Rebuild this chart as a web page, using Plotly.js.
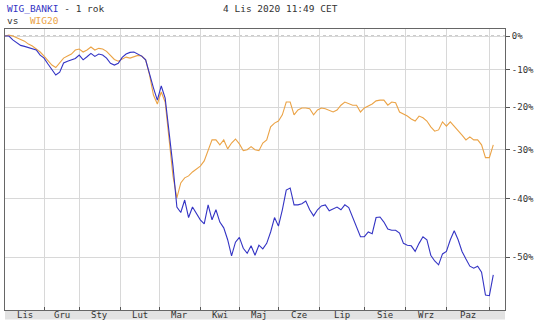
<!DOCTYPE html>
<html>
<head>
<meta charset="utf-8">
<script src="https://cdn.plot.ly/plotly-3.0.1.min.js"></script>
<style>
html,body{margin:0;padding:0;background:#fff;}
#chart{width:536px;height:326px;}
</style>
</head>
<body>
<div id="chart"></div>
<script>
// Trading-day index of every 2nd session, 4 Nov 2019 .. 4 Nov 2020
var dayStep = 2;
// WIG_BANKI, % change vs start
var wigBanki = [0,0,-1.2,-2.2,-2.9,-3.2,-3.5,-3.8,-4.3,-5.8,
-6.7,-8.4,-9.8,-11.5,-10.7,-8.1,-7.6,-7.2,-6.8,-5.8,
-7.2,-6.3,-5.3,-6.2,-5.5,-5.8,-6.7,-8.2,-8.7,-8.2,
-6.5,-5.5,-5.0,-4.9,-5.5,-6.1,-7.2,-11.5,-15.0,-18.2,
-14.5,-17.7,-25.5,-33.5,-41.5,-42.5,-40.2,-43.4,-41.5,-42.7,
-43.8,-44.5,-41.1,-43.8,-42.0,-44.2,-45.2,-47.2,-49.8,-47.6,
-46.8,-48.6,-49.4,-48.2,-49.7,-48.1,-48.7,-47.8,-45.9,-43.4,
-44.9,-42.0,-38.3,-37.9,-41.1,-41.1,-40.9,-40.4,-42.0,-43.1,
-42.0,-41.3,-41.1,-42.2,-41.8,-41.5,-42.0,-41.1,-41.6,-43.4,
-45.1,-46.7,-46.7,-45.9,-46.2,-43.4,-43.3,-44.2,-45.4,-45.6,
-45.6,-46.1,-47.8,-48.1,-48.2,-49.1,-47.8,-46.7,-47.2,-49.7,
-50.6,-51.2,-49.5,-49.1,-47.2,-45.7,-47.2,-49.1,-50.3,-51.4,
-51.7,-51.4,-52.3,-55.6,-55.7,-52.7];
// WIG20, % change vs start
var wig20 = [0,0.3,0,-0.6,-1.1,-1.6,-2.5,-3.1,-4.0,-4.9,
-6.1,-7.5,-8.7,-9.4,-8.1,-6.7,-6.1,-5.5,-4.3,-4.0,
-4.9,-4.3,-3.4,-4.3,-3.8,-4.0,-4.7,-5.8,-7.1,-7.6,
-6.9,-6.4,-6.7,-6.4,-5.9,-6.1,-7.2,-11.5,-16.9,-19.2,
-16.1,-18.7,-27.8,-35.5,-39.8,-36.9,-35.9,-35.5,-34.7,-34.1,
-33.5,-32.4,-30.0,-27.8,-27.8,-28.9,-27.8,-29.8,-28.5,-27.6,
-28.7,-30.2,-30.0,-29.3,-30.0,-30.2,-28.5,-27.8,-24.8,-23.9,
-23.4,-21.9,-18.7,-18.7,-21.9,-20.7,-20.2,-20.2,-20.4,-21.9,
-20.7,-20.2,-20.4,-20.9,-21.2,-20.7,-19.5,-18.7,-19.2,-19.5,
-19.5,-21.2,-20.2,-19.7,-19.2,-18.4,-18.2,-18.2,-19.5,-18.7,
-18.9,-21.2,-21.7,-22.2,-22.9,-23.4,-22.2,-22.6,-23.4,-24.8,
-25.8,-25.5,-23.6,-24.6,-23.6,-24.6,-25.5,-26.7,-27.8,-27.1,
-27.8,-27.8,-28.9,-31.7,-31.7,-28.9];
// month boundaries (trading-day index) and labels
var monthStarts = [0,20,38,59,79,100,120,140,161,184,205,226,248];
var monthLabels = ['Lis','Gru','Sty','Lut','Mar','Kwi','Maj','Cze','Lip','Sie','Wrz','Paz'];
var pctTicks = [0,-10,-20,-30,-40,-50];
var pctLabels = ['0%','-10%','-20%','-30%','-40%','-50%'];

var xs = wigBanki.map(function(_, i){ return i*dayStep; });
var toRatio = function(p){ return 1 + p/100; };
var mids = monthLabels.map(function(_, i){ return (monthStarts[i]+monthStarts[i+1])/2; });

var FONT = 'DejaVu Sans Mono, monospace';
var traces = [
  {x: xs, y: wig20.map(toRatio), type:'scatter', mode:'lines',
   line:{color:'#eba346', width:1.1}, hoverinfo:'skip'},
  {x: xs, y: wigBanki.map(toRatio), type:'scatter', mode:'lines',
   line:{color:'#3434c4', width:1.1}, hoverinfo:'skip'}
];

var annotations = [
  {xref:'paper', yref:'paper', x:0, y:1, xanchor:'left', yanchor:'bottom', yshift:13, showarrow:false,
   text:'<span style="color:#3434c4">WIG_BANKI</span> - 1 rok', font:{family:FONT, size:9.5, color:'#333'}},
  {xref:'paper', yref:'paper', x:0, y:1, xanchor:'left', yanchor:'bottom', yshift:1, showarrow:false,
   text:'vs  <span style="color:#eba346">WIG20</span>', font:{family:FONT, size:9.5, color:'#333'}},
  {xref:'paper', yref:'paper', x:0.55, y:1, xanchor:'center', yanchor:'bottom', yshift:13, showarrow:false,
   text:'4 Lis 2020 11:49 CET', font:{family:FONT, size:9.5, color:'#333'}}
];
monthLabels.forEach(function(lab, i){
  annotations.push({xref:'x', yref:'paper', x:mids[i], y:-0.018, xanchor:'center', yanchor:'middle',
    showarrow:false, text:lab, font:{family:FONT, size:9, color:'#333'}});
});

var layout = {
  width:536, height:326,
  margin:{l:5, r:31, t:29, b:16},
  paper_bgcolor:'#fff', plot_bgcolor:'#fff',
  showlegend:false,
  font:{family:FONT, size:9, color:'#333'},
  xaxis:{type:'linear', range:[0,256], tickvals: monthStarts.slice(1),
    showticklabels:false, showgrid:true, gridcolor:'#d8d8d8', gridwidth:1,
    ticks:'inside', ticklen:3, tickcolor:'#555',
    showline:true, linecolor:'#666', linewidth:1, mirror:true, zeroline:false, fixedrange:true},
  yaxis:{type:'log', range:[Math.log10(0.4236), Math.log10(1.0222)], side:'right',
    tickvals: pctTicks.map(toRatio), ticktext: pctLabels,
    showgrid:true, gridcolor:'#d8d8d8', gridwidth:1,
    ticks:'outside', ticklen:4, tickcolor:'#555',
    showline:true, linecolor:'#666', linewidth:1, mirror:true, zeroline:false,
    tickfont:{family:FONT, size:9, color:'#333'}, fixedrange:true},
  shapes:[
    {type:'rect', xref:'paper', yref:'paper', x0:0, x1:1, y0:-0.034, y1:0,
     fillcolor:'#e2e2e2', line:{width:0}, layer:'below'},
    {type:'line', xref:'paper', yref:'y', x0:0, x1:1, y0:1, y1:1,
     line:{color:'#ffffff', width:1}, layer:'between'},
    {type:'line', xref:'paper', yref:'y', x0:0, x1:1, y0:1, y1:1,
     line:{color:'#999999', width:1, dash:'dot'}, layer:'between'}
  ],
  annotations: annotations
};

Plotly.newPlot('chart', traces, layout, {staticPlot:true, displayModeBar:false});
</script>
</body>
</html>
